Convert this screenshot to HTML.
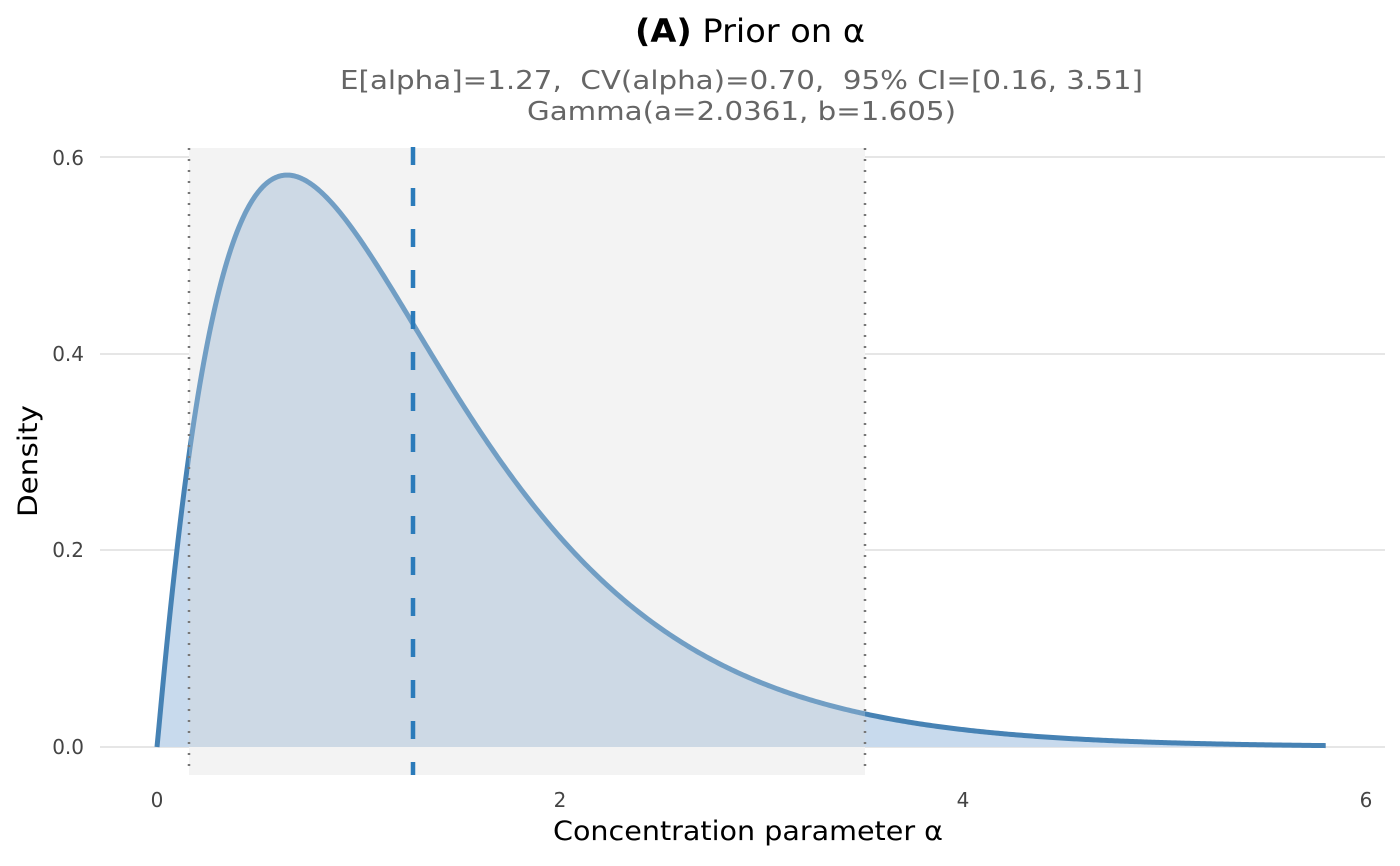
<!DOCTYPE html>
<html><head><meta charset="utf-8"><style>
body{margin:0;background:#fff;}
svg{display:block;font-family:"DejaVu Sans","Liberation Sans",sans-serif;}
text{white-space:pre;}
</style></head><body>
<svg id="s" width="1400" height="866" xmlns="http://www.w3.org/2000/svg">
<defs>
<clipPath id="ci"><rect x="189" y="0" width="676" height="866"/></clipPath>
<clipPath id="out"><path d="M0 0H189V866H0Z M865 0H1400V866H865Z"/></clipPath>
</defs>
<g stroke="#e6e6e6" stroke-width="2">
<line x1="100" x2="1385" y1="157" y2="157"/>
<line x1="100" x2="1385" y1="354" y2="354"/>
<line x1="100" x2="1385" y1="550" y2="550"/>
<line x1="100" x2="1385" y1="747" y2="747"/>
</g>
<rect x="189" y="148" width="676" height="627" fill="#f3f3f3"/>
<path id="fo" clip-path="url(#out)" fill="#c8daed"/>
<path id="fi" clip-path="url(#ci)" fill="#cdd9e5"/>
<path id="lo" clip-path="url(#out)" fill="none" stroke="#4682b4" stroke-width="5" stroke-linejoin="round"/>
<path id="li" clip-path="url(#ci)" fill="none" stroke="#719ec4" stroke-width="5" stroke-linejoin="round"/>
<line x1="189" x2="189" y1="148" y2="775" stroke="#777" stroke-width="2.5" stroke-dasharray="2,9"/>
<line x1="865" x2="865" y1="148" y2="775" stroke="#777" stroke-width="2.5" stroke-dasharray="2,9"/>
<line x1="413" x2="413" y1="147" y2="775" stroke="#2b7bba" stroke-width="4.5" stroke-dasharray="18,23"/>
<g fill="#444" font-size="20">
<text x="84" y="165" text-anchor="end">0.6</text>
<text x="84" y="361" text-anchor="end">0.4</text>
<text x="84" y="557" text-anchor="end">0.2</text>
<text x="84" y="754" text-anchor="end">0.0</text>
<text x="157" y="807" text-anchor="middle">0</text>
<text x="560" y="807" text-anchor="middle">2</text>
<text x="963" y="807" text-anchor="middle">4</text>
<text x="1366" y="807" text-anchor="middle">6</text>
</g>
<text x="553" y="840" textLength="390" lengthAdjust="spacingAndGlyphs" font-size="27" fill="#000">Concentration parameter α</text>
<text transform="translate(37,517) rotate(-90)" textLength="112" lengthAdjust="spacingAndGlyphs" font-size="27" fill="#000">Density</text>
<text x="635" y="42" textLength="230" lengthAdjust="spacingAndGlyphs" font-size="32" fill="#000"><tspan font-weight="bold">(A)</tspan> Prior on α</text>
<text x="340" y="89" textLength="803" lengthAdjust="spacingAndGlyphs" font-size="26" fill="#666">E[alpha]=1.27,  CV(alpha)=0.70,  95% CI=[0.16, 3.51]</text>
<text x="527" y="120" textLength="429" lengthAdjust="spacingAndGlyphs" font-size="26" fill="#666">Gamma(a=2.0361, b=1.605)</text>
</svg>
<script>
var a=2.0361,b=1.605,g=1.0158,ba=Math.pow(b,a);
function f(x){return ba*Math.pow(x,a-1)*Math.exp(-b*x)/g;}
var d="",n=600;
for(var i=0;i<=n;i++){var x=5.8*i/n;var px=157+x*201.5,py=747-f(x)*983.3;d+=(i?"L":"M")+px.toFixed(2)+" "+py.toFixed(2);}
var fill=d+"L"+(157+5.8*201.5)+" 747L157 747Z";
document.getElementById("fo").setAttribute("d",fill);
document.getElementById("fi").setAttribute("d",fill);
document.getElementById("lo").setAttribute("d",d);
document.getElementById("li").setAttribute("d",d);
</script>
</body></html>
